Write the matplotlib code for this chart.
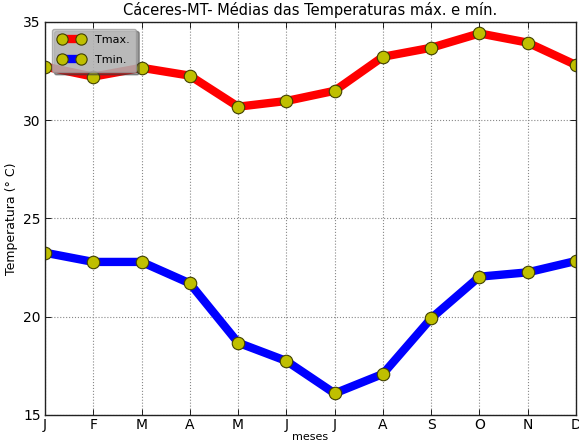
import matplotlib
matplotlib.use("Agg")
import matplotlib.pyplot as plt

meses = ["J", "F", "M", "A", "M", "J", "J", "A", "S", "O", "N", "D"]
tmax = [32.73, 32.22, 32.67, 32.27, 30.69, 30.98, 31.50, 33.23, 33.69, 34.42, 33.95, 32.81]
tmin = [23.26, 22.79, 22.79, 21.70, 18.68, 17.75, 16.10, 17.09, 19.92, 22.04, 22.26, 22.84]

plt.rcParams['font.family'] = ['DejaVu Sans']
fig = plt.figure(figsize=(5.79, 4.43), dpi=100)
ax = fig.add_axes([45/579, 28/443, (576-45)/579, (415-22)/443])

x = list(range(len(meses)))
ax.plot(x, tmax, color='red', lw=6, marker='o', ms=9, mfc=(0.75, 0.75, 0), mec='#404000', mew=0.8, label='Tmax.')
ax.plot(x, tmin, color='blue', lw=6, marker='o', ms=9, mfc=(0.75, 0.75, 0), mec='#404000', mew=0.8, label='Tmin.')

ax.set_xlim(0, 11)
ax.set_ylim(15, 35)
ax.set_xticks(x)
ax.set_xticklabels(meses, fontsize=10)
ax.set_yticks([15, 20, 25, 30, 35])
ax.tick_params(axis='y', labelsize=10, pad=3)
ax.tick_params(axis='x', pad=2)
ax.tick_params(direction='in', top=True, right=True, length=4, width=0.6)
ax.grid(True, color='#888888', linestyle=':', linewidth=0.8)
for s in ax.spines.values():
    s.set_linewidth(1.0)
    s.set_color('#222222')

ax.set_title("Cáceres-MT- Médias das Temperaturas máx. e mín.", fontsize=10.5, pad=5)
ax.set_ylabel("Temperatura (° C)", fontsize=9)
ax.set_xlabel("meses", fontsize=8, labelpad=0)

leg = ax.legend(loc='upper left', fontsize=8, fancybox=True, shadow=True, numpoints=2,
                framealpha=0.75, facecolor='#c4c4c4', edgecolor='#999999',
                handlelength=2.3, borderpad=0.6, labelspacing=0.9, handletextpad=1.0,
                borderaxespad=0.6, markerscale=0.9)

fig.savefig("out.png", dpi=100)
